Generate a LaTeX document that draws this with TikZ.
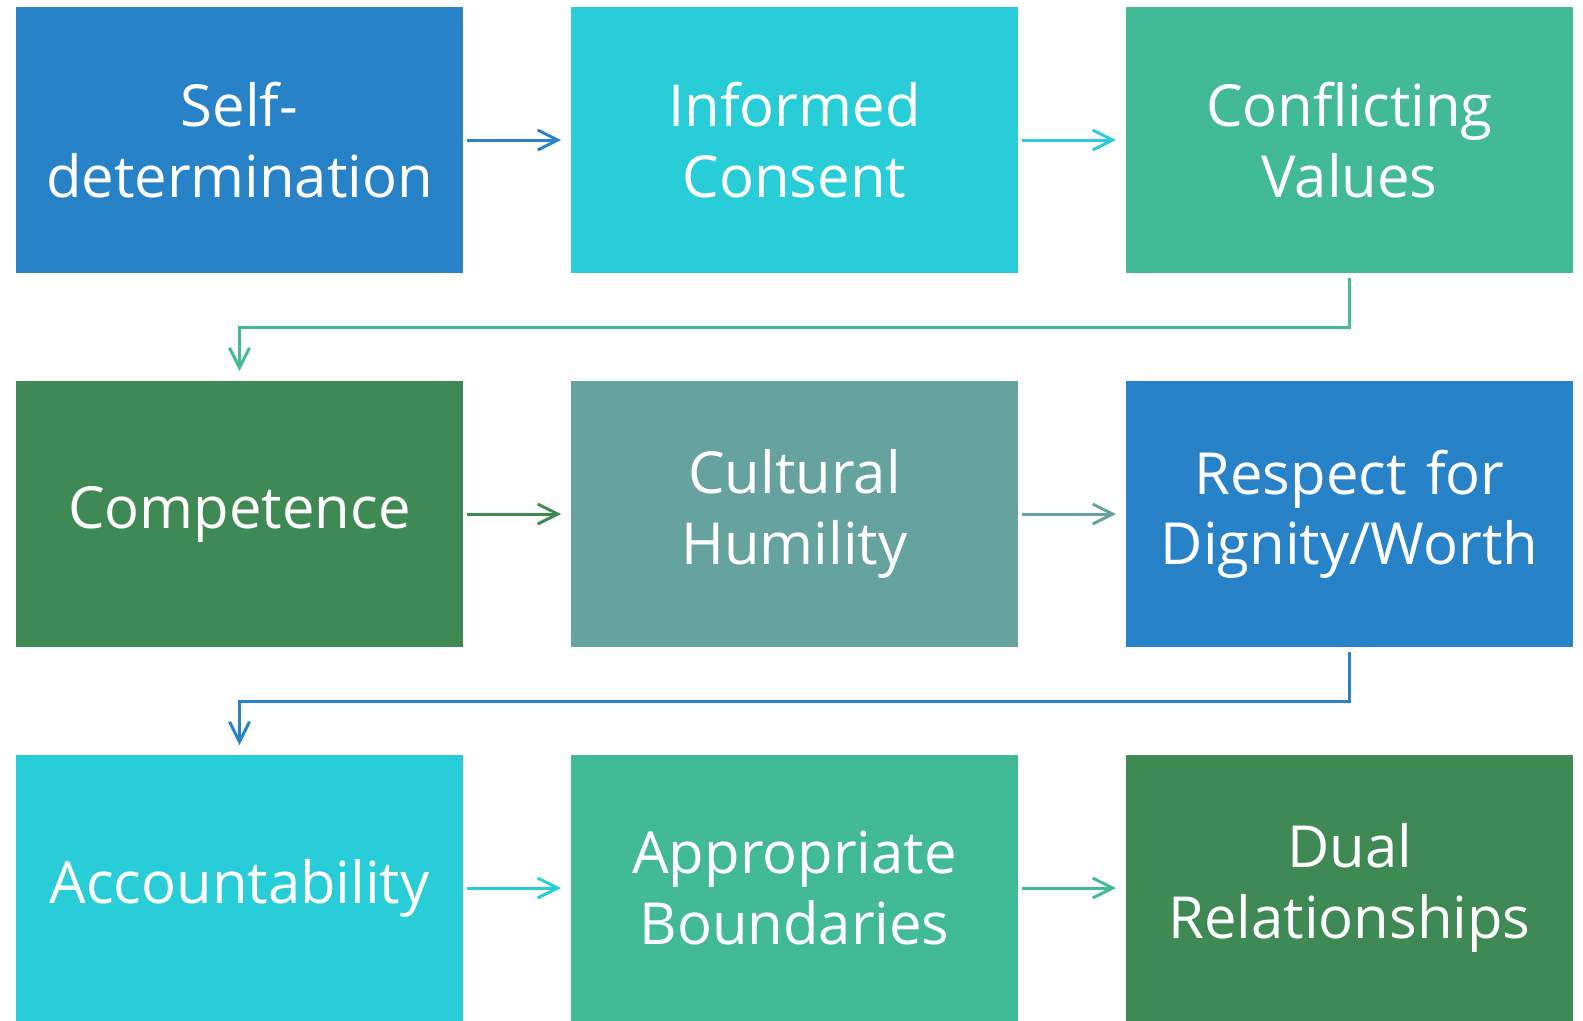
\documentclass[tikz,border=0pt]{standalone}
\usepackage{fontspec}
\setmainfont{Open Sans}
\usetikzlibrary{arrows.meta, positioning, calc}

\definecolor{ethblue}{HTML}{2882C7}
\definecolor{ethcyan}{HTML}{28CDD7}
\definecolor{ethgreen}{HTML}{43BA96}
\definecolor{ethdark}{HTML}{3F8954}
\definecolor{ethteal}{HTML}{66A39F}

\begin{document}
\begin{tikzpicture}[
        box/.style={rectangle, draw=none, outer sep=0pt, inner sep=0pt,
            minimum width=8.94cm, minimum height=5.32cm, text width=8.8cm,
            align=center, text=white, font=\fontsize{33}{40}\selectfont},
        link/.style={line width=1.7pt, -{Straight Barb[length=0.4cm, width=0.4cm, line width=1.7pt]},
            shorten <=0.08cm, shorten >=0.2cm}
    ]
        \useasboundingbox (0,0) rectangle (31.66,-20.4);
        \clip (0,0) rectangle (31.66,-20.4);

        % Các ô hàng 1
        \node [box, fill=ethblue] (selfdet) at (4.79,-2.80) {Self-\\determination};
        \node [box, fill=ethcyan, right=2.16cm of selfdet] (consent) {Informed\\Consent};
        \node [box, fill=ethgreen, right=2.16cm of consent] (conflict) {Conflicting\\Values};

        % Các ô hàng 2
        \node [box, fill=ethdark, below=2.16cm of selfdet] (compet) {Competence};
        \node [box, fill=ethteal, right=2.16cm of compet] (humility) {Cultural\\Humility};
        \node [box, fill=ethblue, right=2.16cm of humility] (respect) {Respect for\\Dignity/Worth};

        % Các ô hàng 3
        \node [box, fill=ethcyan, below=2.16cm of compet] (account) {Accountability};
        \node [box, fill=ethgreen, right=2.16cm of account] (bounds) {Appropriate\\Boundaries};
        \node [box, fill=ethdark, right=2.16cm of bounds] (dual) {Dual\\Relationships};

        % Mũi tên ngang
        \draw[link, ethblue] (selfdet) -- (consent);
        \draw[link, ethcyan] (consent) -- (conflict);
        \draw[link, ethdark] (compet) -- (humility);
        \draw[link, ethteal] (humility) -- (respect);
        \draw[link, ethcyan] (account) -- (bounds);
        \draw[link, ethgreen] (bounds) -- (dual);

        % Mũi tên xuống hàng
        \draw[link, ethgreen, shorten <=0.1cm] (conflict.south) -- ++(0,-1.08) -| (compet.north);
        \draw[link, ethblue, shorten <=0.1cm] (respect.south) -- ++(0,-1.08) -| (account.north);
    \end{tikzpicture}
\end{document}
